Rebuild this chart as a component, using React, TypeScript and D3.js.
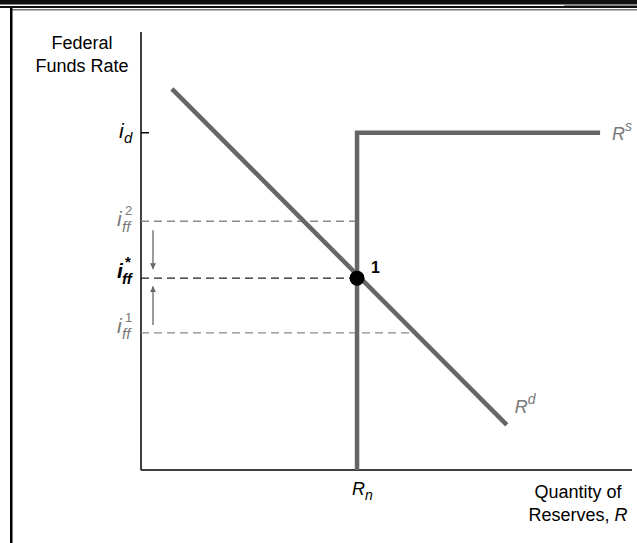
import { useEffect, useRef } from "react";
import * as d3 from "d3";

// quantity of reserves (0..100) vs federal funds rate (0..100)
const discountRate = 77;
const nonborrowed = 44;
const supplyEnd = 93.5;
const demandLine = [
  { q: 6.3, r: 87 },
  { q: 74.5, r: 10.3 },
];
const rateLevels = [
  { key: "2", r: 56.8, end: 44, color: "#8a8a8a", sup: "2" },
  { key: "*", r: 43.8, end: 44, color: "#222", sup: "*" },
  { key: "1", r: 31.3, end: 55.8, color: "#8a8a8a", sup: "1" },
];
const yTitle = ["Federal", "Funds Rate"];
const xTitle = ["Quantity of", "Reserves, "];

const W = 637;
const H = 543;
const FONT = "'Liberation Sans', Arial, Helvetica, sans-serif";

const App = () => {
  const svgRef = useRef<SVGSVGElement | null>(null);

  useEffect(() => {
    const svg = d3.select(svgRef.current).attr("width", W).attr("height", H);
    svg.selectAll("*").remove();

    const x = d3.scaleLinear().domain([0, 100]).range([141, 632]);
    const y = d3.scaleLinear().domain([0, 100]).range([470, 32]);

    // page frame (scanned border)
    svg.append("rect").attr("width", W).attr("height", H).attr("fill", "#fff");
    svg.append("rect").attr("x", 0).attr("y", 0).attr("width", W).attr("height", 4.5).attr("fill", "#111");
    svg.append("rect").attr("x", 564).attr("y", 4.5).attr("width", W - 564).attr("height", 1.5).attr("fill", "#888");
    svg.append("rect").attr("x", 0).attr("y", 6).attr("width", W).attr("height", 2).attr("fill", "#111");
    svg.append("rect").attr("x", 10).attr("y", 9).attr("width", W - 10).attr("height", 1.5).attr("fill", "#777");
    svg.append("rect").attr("x", 10).attr("y", 8).attr("width", 2.5).attr("height", H - 8).attr("fill", "#000");

    const defs = svg.append("defs");
    defs
      .append("marker")
      .attr("id", "head")
      .attr("viewBox", "0 0 10 10")
      .attr("refX", 10)
      .attr("refY", 5)
      .attr("markerWidth", 6)
      .attr("markerHeight", 8)
      .attr("markerUnits", "userSpaceOnUse")
      .attr("orient", "auto")
      .append("path")
      .attr("d", "M0,0L10,5L0,10Z")
      .attr("fill", "#666");

    const g = svg.append("g");

    // axes
    g.append("line")
      .attr("x1", x(0)).attr("x2", x(0))
      .attr("y1", y(100)).attr("y2", y(0))
      .attr("stroke", "#000").attr("stroke-width", 1.5);
    g.append("line")
      .attr("x1", x(0)).attr("x2", x(100))
      .attr("y1", y(0)).attr("y2", y(0))
      .attr("stroke", "#000").attr("stroke-width", 1.5);
    g.append("line")
      .attr("x1", x(0)).attr("x2", x(0) + 8)
      .attr("y1", y(discountRate)).attr("y2", y(discountRate))
      .attr("stroke", "#000").attr("stroke-width", 1.5);

    // dashed rate levels
    g.selectAll(".lvl")
      .data(rateLevels)
      .enter()
      .append("line")
      .attr("x1", x(0))
      .attr("x2", (d) => x(d.end))
      .attr("y1", (d) => y(d.r))
      .attr("y2", (d) => y(d.r))
      .attr("stroke", (d) => d.color)
      .attr("stroke-width", 1.4)
      .attr("stroke-dasharray", "8,5");

    // arrows toward equilibrium
    const ax = x(0) + 12;
    const [r2, rs, r1] = rateLevels.map((d) => d.r);
    g.append("line")
      .attr("x1", ax).attr("x2", ax)
      .attr("y1", y(r2) + 9).attr("y2", y(rs) - 9)
      .attr("stroke", "#666").attr("stroke-width", 1.3)
      .attr("marker-end", "url(#head)");
    g.append("line")
      .attr("x1", ax).attr("x2", ax)
      .attr("y1", y(r1) - 8).attr("y2", y(rs) + 8)
      .attr("stroke", "#666").attr("stroke-width", 1.3)
      .attr("marker-end", "url(#head)");

    // supply curve
    const supply = d3.line<[number, number]>().x((d) => x(d[0])).y((d) => y(d[1]));
    g.append("path")
      .attr("d", supply([[nonborrowed, 0], [nonborrowed, discountRate], [supplyEnd, discountRate]]))
      .attr("fill", "none")
      .attr("stroke", "#666")
      .attr("stroke-width", 4.5)
      .attr("stroke-linejoin", "miter");

    // demand curve
    g.append("path")
      .attr("d", d3.line<{ q: number; r: number }>().x((d) => x(d.q)).y((d) => y(d.r))(demandLine))
      .attr("fill", "none")
      .attr("stroke", "#666")
      .attr("stroke-width", 4.5);

    // equilibrium point
    g.append("circle")
      .attr("cx", x(nonborrowed))
      .attr("cy", y(rs))
      .attr("r", 7.5)
      .attr("fill", "#000");
    g.append("text")
      .attr("x", x(nonborrowed) + 14)
      .attr("y", y(rs) - 5)
      .attr("font-family", FONT)
      .attr("font-size", 16)
      .attr("font-weight", "bold")
      .text("1");

    const txt = (px: number, py: number, s: string, opts: any = {}) =>
      g.append("text")
        .attr("x", px)
        .attr("y", py)
        .attr("font-family", FONT)
        .attr("font-size", opts.size ?? 18)
        .attr("font-style", opts.italic ? "italic" : "normal")
        .attr("font-weight", opts.bold ? "bold" : "normal")
        .attr("fill", opts.color ?? "#000")
        .attr("text-anchor", opts.anchor ?? "start")
        .text(s);

    // axis titles
    yTitle.forEach((s, i) => txt(82, 49 + i * 23, s, { anchor: "middle" }));
    txt(578, 498, xTitle[0], { anchor: "middle" });
    const xt1 = txt(578, 521, xTitle[1], { anchor: "middle" });
    xt1.append("tspan").attr("font-style", "italic").text("R");

    // i_d
    txt(x(0) - 22, y(discountRate) + 5, "i", { italic: true, size: 21 });
    txt(x(0) - 17, y(discountRate) + 10, "d", { italic: true, size: 15 });

    // i_ff labels (the top one sits a little below its line)
    const shift: Record<string, number> = { "2": 5, "*": 0, "1": 0 };
    rateLevels.forEach((d) => {
      const star = d.key === "*";
      const c = star ? "#000" : "#777";
      const py = y(d.r) + shift[d.key];
      txt(x(0) - 24, py, "i", { italic: true, size: 21, color: c, bold: star });
      txt(x(0) - 19, py + 6, "ff", { italic: true, size: 15, color: c, bold: star });
      txt(x(0) - 16, py - 11, d.sup, {
        size: star ? 15 : 13,
        color: c,
        bold: star,
      });
    });

    // curve labels
    txt(x(supplyEnd) + 12, y(discountRate) + 7, "R", { italic: true, color: "#777" });
    txt(x(supplyEnd) + 25, y(discountRate) - 2, "s", { italic: true, color: "#777", size: 14 });
    txt(x(demandLine[1].q) + 8, y(demandLine[1].r) - 12, "R", { italic: true, color: "#777" });
    txt(x(demandLine[1].q) + 21, y(demandLine[1].r) - 21, "d", { italic: true, color: "#777", size: 14 });
    txt(x(nonborrowed) - 5, y(0) + 25, "R", { italic: true });
    txt(x(nonborrowed) + 8, y(0) + 30, "n", { italic: true, size: 14 });
  }, []);

  return (
    <svg
      ref={svgRef}
      style={{ position: "absolute", left: 0, top: 0, display: "block" }}
    />
  );
};

export default App;
